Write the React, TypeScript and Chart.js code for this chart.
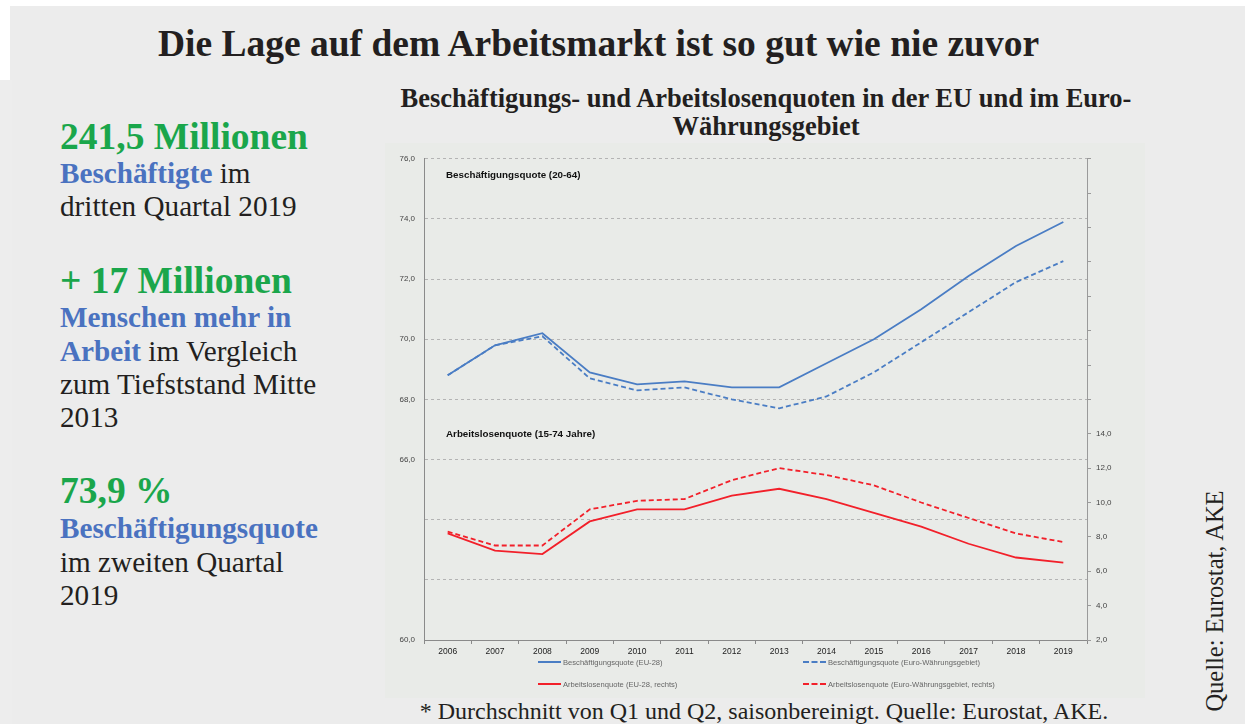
import React, { useEffect, useRef } from "react";
import { Chart, registerables } from "chart.js";

Chart.register(...registerables);

const years = ["2006", "2007", "2008", "2009", "2010", "2011", "2012", "2013", "2014", "2015", "2016", "2017", "2018", "2019"];
const empEU = [68.8, 69.8, 70.2, 68.9, 68.5, 68.6, 68.4, 68.4, 69.2, 70.0, 71.0, 72.1, 73.1, 73.9];
const empEA = [68.8, 69.8, 70.1, 68.7, 68.3, 68.4, 68.0, 67.7, 68.1, 68.9, 69.9, 70.9, 71.9, 72.6];
const unempEU = [8.2, 7.2, 7.0, 8.9, 9.6, 9.6, 10.4, 10.8, 10.2, 9.4, 8.6, 7.6, 6.8, 6.5];
const unempEA = [8.3, 7.5, 7.5, 9.6, 10.1, 10.2, 11.3, 12.0, 11.6, 11.0, 10.0, 9.1, 8.2, 7.7];

const seriesLabels = [
  "Beschäftigungsquote (EU-28)",
  "Beschäftigungsquote (Euro-Währungsgebiet)",
  "Arbeitslosenquote (EU-28, rechts)",
  "Arbeitslosenquote (Euro-Währungsgebiet, rechts)",
];
const seriesColors = ["#4a7dc4", "#4a7dc4", "#f2202a", "#f2202a"];
const seriesDashed = [false, true, false, true];

const leftHidden = [62, 64];
const rightMaxLabel = 14;

const title = "Die Lage auf dem Arbeitsmarkt ist so gut wie nie zuvor";
const chartTitle1 = "Beschäftigungs- und Arbeitslosenquoten in der EU und im Euro-";
const chartTitle2 = "Währungsgebiet";
const panelLabelTop = "Beschäftigungsquote (20-64)";
const panelLabelBottom = "Arbeitslosenquote (15-74 Jahre)";
const footnote = "* Durchschnitt von Q1 und Q2, saisonbereinigt. Quelle: Eurostat, AKE.";
const source = "Quelle: Eurostat, AKE";

const fmt = (v: number) => v.toFixed(1).replace(".", ",");

const GREEN = "#1aa64b";
const BLUE = "#4a72c0";
const serif = "'Liberation Serif', 'Times New Roman', serif";
const sans = "'Liberation Sans', Arial, sans-serif";

const annotations = {
  id: "panelLabels",
  afterDatasetsDraw(chart: any) {
    const { ctx, chartArea, scales } = chart;
    ctx.save();
    ctx.fillStyle = "#111";
    ctx.font = `bold 9.8px ${sans}`;
    ctx.textBaseline = "middle";
    ctx.fillText(panelLabelTop, chartArea.left + 22, scales.y.getPixelForValue(75.45));
    ctx.fillText(panelLabelBottom, chartArea.left + 22, scales.y.getPixelForValue(66.85));
    ctx.restore();
  },
};

function ChartBox() {
  const ref = useRef<HTMLCanvasElement>(null);
  useEffect(() => {
    const canvas = ref.current!;
    const data = [empEU, empEA, unempEU, unempEA];
    const chart = new Chart(canvas, {
      type: "line",
      data: {
        labels: years,
        datasets: data.map((d, i) => ({
          label: seriesLabels[i],
          data: d,
          borderColor: seriesColors[i],
          backgroundColor: seriesColors[i],
          borderWidth: 1.8,
          borderDash: seriesDashed[i] ? [5, 3] : [],
          pointRadius: 0,
          tension: 0,
          yAxisID: i < 2 ? "y" : "y2",
        })),
      },
      options: {
        responsive: false,
        animation: false,
        devicePixelRatio: 1,
        layout: { padding: { top: 12, left: 0, right: 0, bottom: 0 } },
        plugins: { legend: { display: false }, tooltip: { enabled: false }, title: { display: false } },
        scales: {
          x: {
            type: "category",
            offset: true,
            grid: { display: true, drawOnChartArea: false, drawTicks: true, tickLength: 4, color: "#8a8a8a", offset: true },
            border: { display: true, color: "#8a8a8a", width: 1 },
            ticks: { color: "#222", font: { size: 8.5, family: sans }, padding: 3, maxRotation: 0, autoSkip: false },
            afterFit: (s: any) => { s.height = 25; },
          },
          y: {
            position: "left",
            min: 60,
            max: 76,
            ticks: {
              stepSize: 2,
              color: "#444",
              font: { size: 8, family: sans },
              padding: 9,
              callback: (v: any) => (leftHidden.includes(Number(v)) ? "" : fmt(Number(v))),
            },
            grid: { color: "#b4b4b4", lineWidth: 1, drawTicks: false },
            border: { display: true, color: "#8a8a8a", width: 1, dash: [3, 3] },
            afterFit: (s: any) => { s.width = 39; },
          },
          y2: {
            position: "right",
            min: 2,
            max: 30,
            ticks: {
              stepSize: 2,
              color: "#444",
              font: { size: 8, family: sans },
              padding: 5,
              callback: (v: any) => (Number(v) > rightMaxLabel ? "" : fmt(Number(v))),
            },
            grid: { drawOnChartArea: false, drawTicks: true, tickLength: 4, color: "#9a9a9a" },
            border: { display: true, color: "#9a9a9a", width: 1 },
            afterFit: (s: any) => { s.width = 58; },
          },
        },
      },
      plugins: [annotations],
    });
    return () => chart.destroy();
  }, []);
  return <canvas ref={ref} width={760} height={520} style={{ position: "absolute", left: 385, top: 145, width: 760, height: 520 }} />;
}

function Legend() {
  const cols = [538, 803];
  const rows = [662, 684];
  return (
    <>
      {seriesLabels.map((lab, i) => (
        <div
          key={lab}
          style={{
            position: "absolute",
            left: cols[i % 2],
            top: rows[Math.floor(i / 2)] - 6,
            height: 12,
            display: "flex",
            alignItems: "center",
            fontFamily: sans,
            fontSize: 7.6,
            color: "#666",
            whiteSpace: "nowrap",
          }}
        >
          <span
            style={{
              display: "inline-block",
              width: 23,
              height: 0,
              borderTop: `2px ${seriesDashed[i] ? "dashed" : "solid"} ${seriesColors[i]}`,
              marginRight: 2,
            }}
          />
          {lab}
        </div>
      ))}
    </>
  );
}

const line = (top: number, children: React.ReactNode, size = 29.2) => (
  <div style={{ position: "absolute", left: 60, top, fontFamily: serif, fontSize: size, color: "#231f20", whiteSpace: "nowrap", lineHeight: 1 }}>
    {children}
  </div>
);
const blue = (t: string) => <b style={{ color: BLUE }}>{t}</b>;
const green = (t: string) => <b style={{ color: GREEN }}>{t}</b>;

export default function App() {
  return (
    <div style={{ position: "fixed", left: 0, top: 0, width: 1245, height: 724, background: "#fff", overflow: "hidden" }}>
      <div style={{ position: "absolute", left: 10, top: 6, width: 1235, height: 718, background: "#ececec" }} />
      <div style={{ position: "absolute", left: 0, top: 80, width: 12, height: 644, background: "#ededed" }} />
      <div
        style={{
          position: "absolute",
          left: 0,
          width: 1245,
          top: 24.5,
          textAlign: "center",
          fontFamily: serif,
          fontWeight: "bold",
          fontSize: 37.5,
          color: "#231f20",
          lineHeight: 1,
          whiteSpace: "nowrap",
        }}
      >
        <span style={{ position: "relative", left: -24 }}>{title}</span>
      </div>
      <div
        style={{
          position: "absolute",
          left: 366,
          width: 800,
          top: 84,
          textAlign: "center",
          fontFamily: serif,
          fontWeight: "bold",
          fontSize: 26.5,
          color: "#231f20",
          lineHeight: "28px",
          whiteSpace: "nowrap",
        }}
      >
        {chartTitle1}
        <br />
        {chartTitle2}
      </div>
      <div style={{ position: "absolute", left: 385, top: 143, width: 760, height: 555, background: "#e9ebe8" }} />
      <ChartBox />
      <Legend />
      {line(118, green("241,5 Millionen"), 37.5)}
      {line(159.2, <>{blue("Beschäftigte")} im</>)}
      {line(192.2, "dritten Quartal 2019")}
      {line(262, green("+ 17 Millionen"), 37.5)}
      {line(303.2, blue("Menschen mehr in"))}
      {line(337.2, <>{blue("Arbeit")} im Vergleich</>)}
      {line(370.2, "zum Tiefststand Mitte")}
      {line(403.2, "2013")}
      {line(472, green("73,9 %"), 37.5)}
      {line(514.2, blue("Beschäftigungsquote"))}
      {line(548.2, "im zweiten Quartal")}
      {line(581.2, "2019")}
      <div
        style={{
          position: "absolute",
          left: 364,
          width: 800,
          top: 699,
          textAlign: "center",
          fontFamily: serif,
          fontSize: 24,
          color: "#231f20",
          lineHeight: 1,
          whiteSpace: "nowrap",
        }}
      >
        {footnote}
      </div>
      <div
        style={{
          position: "absolute",
          left: 1215,
          top: 601,
          transform: "translate(-50%, -50%) rotate(-90deg)",
          fontFamily: serif,
          fontSize: 24.5,
          color: "#231f20",
          whiteSpace: "nowrap",
          lineHeight: 1,
        }}
      >
        {source}
      </div>
    </div>
  );
}
